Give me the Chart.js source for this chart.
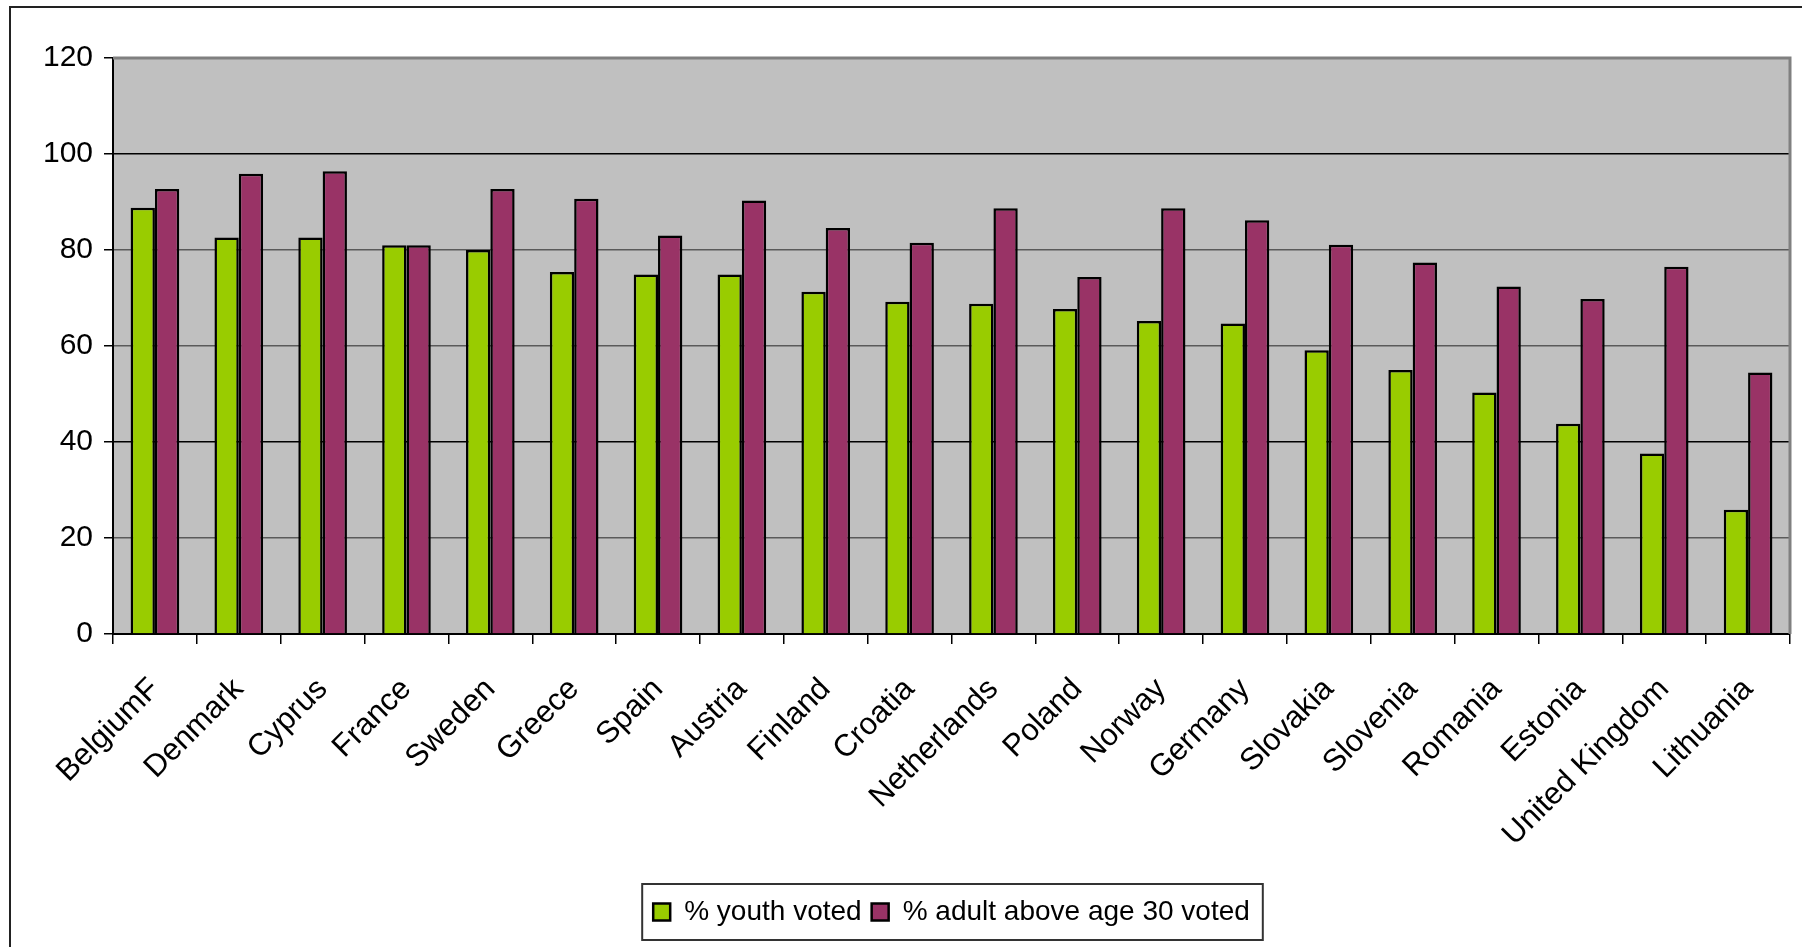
<!DOCTYPE html>
<html>
<head>
	<meta charset="utf-8"/>
	<title>Youth vs adult voting</title>
	<script src="https://cdn.jsdelivr.net/npm/chart.js"></script>
	<style>
		html,body{margin:0;padding:0;background:#fff;overflow:hidden}
		#box{width:1802px;height:947px;position:relative}
	</style>
	<script>
	// values
	let Countries=["BelgiumF","Denmark","Cyprus","France","Sweden","Greece","Spain","Austria","Finland","Croatia",
		"Netherlands","Poland","Norway","Germany","Slovakia","Slovenia","Romania","Estonia","United Kingdom","Lithuania"];
	let Youth=[88.8,82.6,82.6,81.0,80.0,75.4,74.9,74.9,71.3,69.2,68.8,67.7,65.2,64.7,59.1,55.0,50.3,43.8,37.6,25.9];
	let Adult=[92.7,95.9,96.4,81.0,92.7,90.7,83.0,90.3,84.6,81.5,88.7,74.4,88.7,86.2,81.1,77.4,72.4,69.8,76.5,54.5];
	let YTicks=[0,20,40,60,80,100,120];
	let SeriesNames=["% youth voted","% adult above age 30 voted"];

	const FONT="'Liberation Sans', Arial, sans-serif";

	// grey plot area, outer frame, legend frame
	const Decor={
		id:"decor",
		beforeDraw(chart){
			let c=chart.ctx, a=chart.chartArea;
			c.save();
			c.fillStyle="#fff";
			c.fillRect(0,0,chart.width,chart.height);
			c.strokeStyle="#222";
			c.lineWidth=2;
			c.strokeRect(10,7,chart.width+20,chart.height+20);
			c.fillStyle="#c0c0c0";
			c.fillRect(a.left,a.top,a.right-a.left,a.bottom-a.top);
			c.restore();
		},
		afterDatasetsDraw(chart){
			let c=chart.ctx, a=chart.chartArea;
			c.save();
			c.strokeStyle="#808080";
			c.lineWidth=3;
			c.beginPath();
			c.moveTo(a.left,a.top);
			c.lineTo(a.right,a.top);
			c.lineTo(a.right,a.bottom);
			c.stroke();
			c.restore();
		},
		afterDraw(chart){
			let lg=chart.legend;
			if(!lg||!lg.legendHitBoxes.length) return;
			let hb=lg.legendHitBoxes;
			let l=Math.min(...hb.map(h=>h.left))-11;
			let r=Math.max(...hb.map(h=>h.left+h.width))+13;
			let t=hb[0].top-14, b=hb[0].top+hb[0].height+14;
			let c=chart.ctx;
			c.save();
			c.strokeStyle="#333";
			c.lineWidth=2;
			c.strokeRect(l,t,r-l,b-t);
			c.restore();
		}
	};

	window.onload=function(){
		new Chart(document.getElementById("chart"),{
			type:"bar",
			data:{
				labels:Countries,
				datasets:[{
					label:SeriesNames[0],
					data:Youth,
					backgroundColor:"#99cc00",
					borderColor:"#000",
					borderWidth:2.5,
					categoryPercentage:0.58,
					barPercentage:1
				},{
					label:SeriesNames[1],
					data:Adult,
					backgroundColor:"#993366",
					borderColor:"#000",
					borderWidth:2.5,
					categoryPercentage:0.58,
					barPercentage:1
				}]
			},
			options:{
				responsive:false,
				animation:false,
				layout:{padding:{top:58,right:12,bottom:11,left:0}},
				plugins:{
					tooltip:{enabled:false},
					legend:{
						position:"bottom",
						fullSize:false,
						labels:{
							font:{family:FONT,size:28},
							color:"#000",
							boxWidth:17,
							boxHeight:17,
							padding:10
						}
					}
				},
				scales:{
					x:{
						afterFit(s){s.height=254;},
						grid:{
							offset:true,
							drawOnChartArea:false,
							drawTicks:true,
							tickLength:10,
							tickColor:"#000",
							lineWidth:1.5
						},
						border:{color:"#000",width:2},
						ticks:{
							font:{family:FONT,size:31},
							color:"#000",
							minRotation:45,
							maxRotation:45,
							padding:27,
							autoSkip:false
						}
					},
					y:{
						min:0,
						max:120,
						afterFit(s){s.width=113;},
						afterBuildTicks(s){s.ticks=YTicks.map(v=>({value:v}));},
						grid:{
							color(ctx){
								let v=ctx.tick&&ctx.tick.value;
								if(v===120) return "rgba(0,0,0,0)";
								if(v===100||v===40) return "#000";
								return "#5a5a5a";
							},
							lineWidth:1.5,
							tickLength:9,
							tickColor:"#000"
						},
						border:{color:"#000",width:2},
						ticks:{
							font:{family:FONT,size:30},
							color:"#000",
							padding:11
						}
					}
				}
			},
			plugins:[Decor]
		});
	};
	</script>
</head>
<body>
	<div id="box"><canvas id="chart" width="1802" height="947"></canvas></div>
</body>
</html>
